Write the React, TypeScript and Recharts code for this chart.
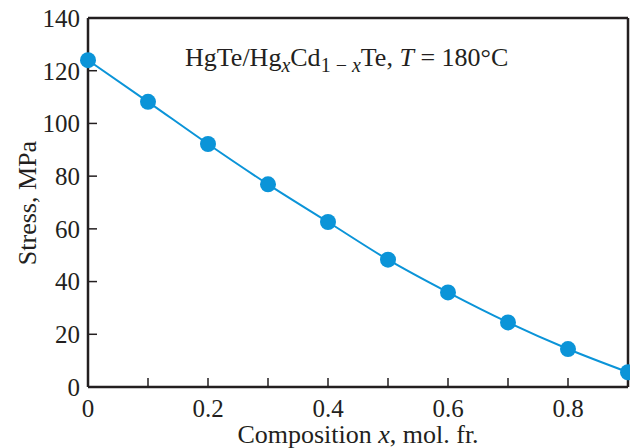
import { LineChart, Line, XAxis, YAxis, Customized } from 'recharts';

const composition = [0, 0.1, 0.2, 0.3, 0.4, 0.5, 0.6, 0.7, 0.8, 0.9];
const stress = [124.0, 108.2, 92.2, 76.9, 62.6, 48.3, 35.9, 24.5, 14.4, 5.6];
const xTicks = [0, 0.1, 0.2, 0.3, 0.4, 0.5, 0.6, 0.7, 0.8, 0.9];
const yTicks = [0, 20, 40, 60, 80, 100, 120, 140];

const data = composition.map((x, i) => ({ x, stress: stress[i] }));

const FONT = "'Liberation Serif', 'Times New Roman', serif";
const INK = '#231f20';
const BLUE = '#0b94d8';

const fmtX = (v: number) => {
  const k = Math.round(v * 10);
  if (k % 2 !== 0) return '';
  return k === 0 ? '0' : (k / 10).toFixed(1);
};

function Texts() {
  return (
    <g fontFamily={FONT} fill={INK}>
      <text x={185} y={66} style={{ fontSize: 26 }}>
        HgTe/Hg
        <tspan fontStyle="italic" style={{ fontSize: 20 }} dy={6}>x</tspan>
        <tspan dy={-6}>Cd</tspan>
        <tspan style={{ fontSize: 20 }} dy={6}>1 − </tspan>
        <tspan style={{ fontSize: 20 }} fontStyle="italic">x</tspan>
        <tspan dy={-6}>Te, </tspan>
        <tspan fontStyle="italic">T</tspan>
        <tspan> = 180°C</tspan>
      </text>
      <text x={27} y={203} style={{ fontSize: 26 }} textAnchor="middle" dominantBaseline="central" transform="rotate(-90 27 203)">
        Stress, MPa
      </text>
      <text x={358} y={443} style={{ fontSize: 26 }} textAnchor="middle">
        Composition <tspan fontStyle="italic">x</tspan>, mol. fr.
      </text>
    </g>
  );
}

export default function App() {
  const tickStyle = { fontFamily: FONT, fontSize: 25, fill: INK };
  const axisLine = { stroke: INK, strokeWidth: 2.5 };
  const tickLine = { stroke: INK, strokeWidth: 1.5 };
  return (
    <div style={{ position: 'absolute', left: 0, top: 0, background: '#fff' }}>
      <LineChart width={630} height={448} data={data} margin={{ top: 17, right: 1, bottom: 0, left: 0 }}>
        <XAxis
          dataKey="x"
          type="number"
          domain={[0, 0.9]}
          ticks={xTicks}
          tickFormatter={fmtX}
          interval={0}
          height={61}
          tickSize={-9}
          tickMargin={21}
          tick={tickStyle}
          fontSize={25}
          axisLine={axisLine}
          tickLine={tickLine}
        />
        <XAxis
          xAxisId="top"
          dataKey="x"
          type="number"
          orientation="top"
          domain={[0, 0.9]}
          ticks={xTicks}
          interval={0}
          height={1}
          tickSize={-9}
          tick={false}
          axisLine={axisLine}
          tickLine={tickLine}
        />
        <YAxis
          type="number"
          domain={[0, 140]}
          ticks={yTicks}
          interval={0}
          width={88}
          tickSize={-9}
          tickMargin={17}
          tick={tickStyle}
          fontSize={25}
          axisLine={axisLine}
          tickLine={tickLine}
        />
        <YAxis
          yAxisId="right"
          orientation="right"
          type="number"
          domain={[0, 140]}
          ticks={yTicks}
          interval={0}
          width={1}
          tickSize={-9}
          tick={false}
          axisLine={axisLine}
          tickLine={tickLine}
        />
        <Line
          type="monotone"
          dataKey="stress"
          stroke={BLUE}
          strokeWidth={2}
          dot={{ r: 8, fill: BLUE, stroke: BLUE, strokeWidth: 0 }}
          isAnimationActive={false}
        />
        <Customized component={Texts} />
      </LineChart>
    </div>
  );
}
